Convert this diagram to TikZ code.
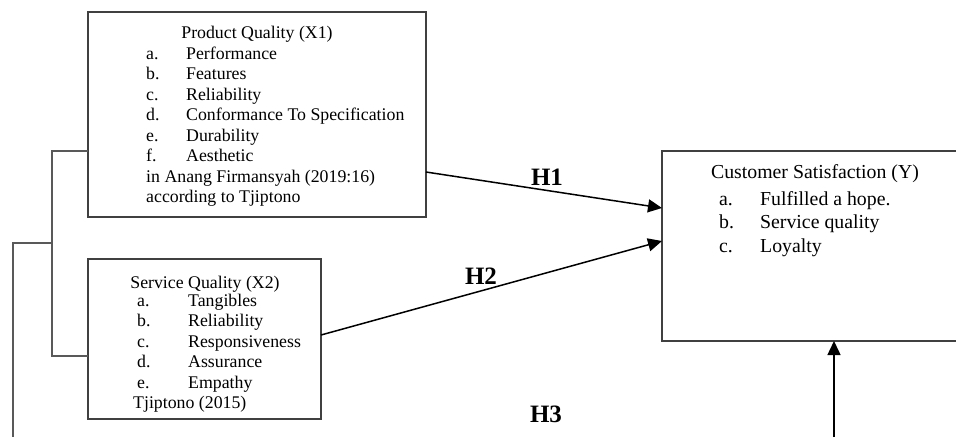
\documentclass[tikz,border=0pt]{standalone}
\usepackage{fontspec}
\setmainfont{Liberation Serif}
\usetikzlibrary{arrows.meta}

\begin{document}
\begin{tikzpicture}[x=1pt,y=-1pt,
  box/.style={draw=black!75,line width=1.4pt,inner sep=0pt,outer sep=0pt},
  txt/.style={inner sep=0pt,font=\fontsize{17.8}{20.5}\selectfont},
  big/.style={inner sep=0pt,font=\fontsize{19.8}{23.5}\selectfont},
  hyp/.style={inner sep=0pt,font=\fontsize{25}{30}\selectfont\bfseries},
  link/.style={line width=1.5pt,-{Triangle[length=14pt,width=13pt]}},
  bracket/.style={draw=black!65,line width=1.3pt}]
\clip (0,0) rectangle (956,437);
\node[box,anchor=north west,minimum width=338pt,minimum height=205pt] (pq) at (88,12) {};
\node[box,anchor=north west,minimum width=233pt,minimum height=160pt] (sq) at (88,259) {};
\node[box,anchor=north west,minimum width=320pt,minimum height=190pt] (cs) at (662,151) {};

\node[txt,anchor=base] (pqt) at (257,38) {Product Quality (X1)};
\foreach \l/\t [count=\i from 0] in {a./Performance,b./Features,c./Reliability,d./Conformance To Specification,e./Durability,f./Aesthetic}
  \node[txt,anchor=base west] (pq\i) at (146,59+20.5*\i) {\makebox[40pt][l]{\l}\t};
\node[txt,anchor=base west] (pqs1) at (146,182) {in Anang Firmansyah (2019:16)};
\node[txt,anchor=base west] (pqs2) at (146,202.5) {according to Tjiptono};

\node[txt,anchor=base] (sqt) at (205,288) {Service Quality (X2)};
\foreach \l/\t [count=\i from 0] in {a./Tangibles,b./Reliability,c./Responsiveness,d./Assurance,e./Empathy}
  \node[txt,anchor=base west] (sq\i) at (137,306.5+20.4*\i) {\makebox[51pt][l]{\l}\t};
\node[txt,anchor=base west] (sqs) at (133,408.5) {Tjiptono (2015)};

\node[big,anchor=base] (cst) at (815,178) {Customer Satisfaction (Y)};
\foreach \l/\t [count=\i from 0] in {a./Fulfilled a hope.,b./Service quality,c./Loyalty}
  \node[big,anchor=base west] (cs\i) at (719,205+23.5*\i) {\makebox[41pt][l]{\l}\t};

\node[hyp,anchor=base] (h1) at (547,185) {H1};
\node[hyp,anchor=base] (h2) at (481,284) {H2};
\node[hyp,anchor=base] (h3) at (546,422) {H3};

\coordinate (jn) at (52,243);
\coordinate (lo) at (13,437);
\coordinate (up) at (834,437);
\draw[bracket] ([yshift=66pt]pq.south west) -| (jn) |- ([yshift=63pt]sq.south west);
\draw[bracket] (jn) -| (lo);
\draw[link] ([yshift=-57.5pt]pq.east) -- ([yshift=38pt]cs.west);
\draw[link] ([yshift=4pt]sq.east) -- ([yshift=5pt]cs.west);
\draw[link] (up) -- (up |- cs.south);
\end{tikzpicture}
\end{document}
